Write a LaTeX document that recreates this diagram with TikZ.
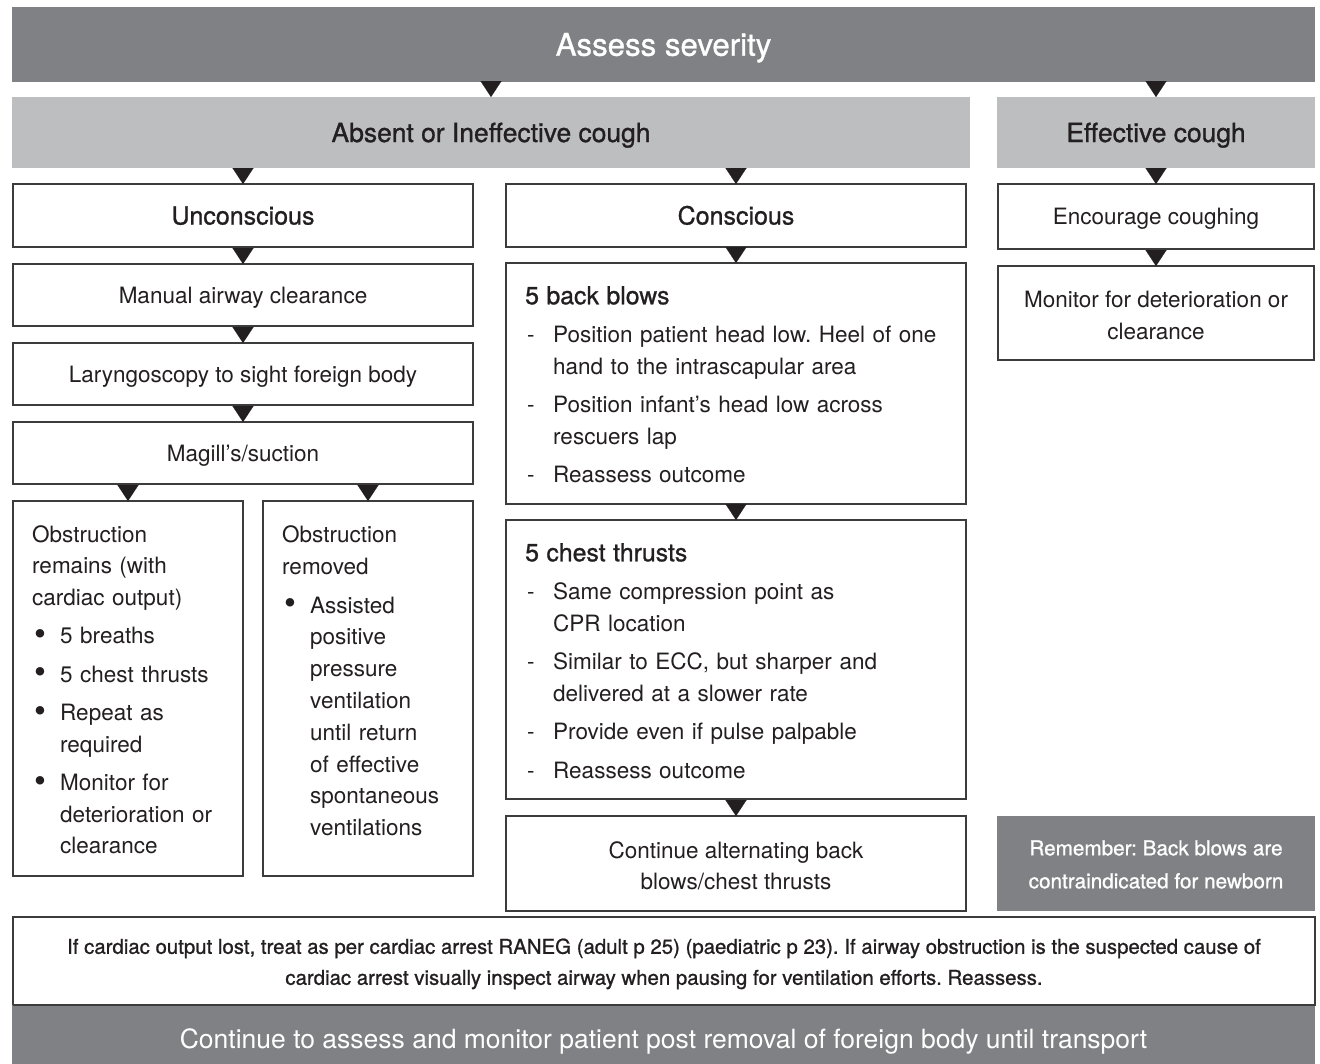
\documentclass[tikz,border=0pt]{standalone}
\usepackage{fontspec}
\setmainfont{TeX Gyre Heros}
\newfontfamily\medfont[FakeBold=1.0]{TeX Gyre Heros}
\usetikzlibrary{arrows.meta}
\definecolor{darkg}{RGB}{128,129,132}
\definecolor{lightg}{RGB}{188,190,192}
\definecolor{edge}{RGB}{60,60,60}
\definecolor{ink}{RGB}{35,31,32}
\frenchspacing
\newcommand\bodyf{\fontsize{22.5}{31.5}\selectfont}
\newcommand\headf{\medfont\fontsize{26.4}{31.5}\selectfont}
\newcommand\boxheadf{\medfont\fontsize{25}{31.5}\selectfont}
\newcommand\titlef{\medfont\fontsize{24.8}{31.5}\selectfont}
\newcommand\bul{\raisebox{-1.5pt}{\fontsize{34}{34}\selectfont\textbullet}}
\newcommand\itm[2]{\par\hangindent=28pt\hangafter=1\noindent\makebox[28pt][l]{\hspace{2pt}#1}#2}
\begin{document}
\begin{tikzpicture}[x=1pt,y=-1pt,
  wh/.style 2 args={minimum width=#1pt, minimum height=#2pt},
  capc/.style={text height=#1pt, text depth=0pt},
  dark/.style={fill=darkg, text=white, draw=none, inner sep=0pt, outer sep=0pt},
  light/.style={fill=lightg, text=ink, draw=none, inner sep=0pt, outer sep=0pt, font=\headf, capc=19},
  box/.style={draw=edge, line width=1.1pt, fill=white, text=ink, inner sep=0pt, outer sep=0pt, align=center, font=\bodyf},
  txt/.style={anchor=north west, inner sep=0pt, text=ink, align=left, font=\bodyf},
  tri/.style={-{Triangle[width=21pt,length=16pt]}, line width=0.01pt, color=ink}
]
\useasboundingbox (0,0) rectangle (1320,1063);
\clip (0,0) rectangle (1320,1063);

% top bars
\node[dark, wh={1303}{75}, font=\medfont\fontsize{31.2}{34}\selectfont, capc=22.4] (top) at (663.5,44.5) {Assess severity};
\node[light, wh={958}{71}] (absent) at (491,132.5) {Absent or Ineffective cough};
\node[light, wh={318}{71}] (effective) at (1156,132.5) {Effective cough};

% left column
\node[box, wh={460}{63}, font=\boxheadf, capc=18] (uncon) at (243,215.5) {Unconscious};
\node[box, wh={460}{62}, capc=16.2] (manual) at (243,295) {Manual airway clearance};
\node[box, wh={460}{62}, capc=16.2] (laryng) at (243,374) {Laryngoscopy to sight foreign body};
\node[box, wh={460}{62}, capc=16.2] (magill) at (243,453) {Magill’s/suction};
\node[box, wh={230}{375}] (remains) at (128,688.5) {};
\node[box, wh={210}{375}] (removed) at (368,688.5) {};

\node[txt, text width=211pt] (remainsT) at ([xshift=19pt,yshift=-19pt]remains.north west)
{\setlength{\parskip}{7pt}\strut Obstruction\\remains (with\\cardiac output)
\itm{\bul}{5 breaths}
\itm{\bul}{5 chest thrusts}
\itm{\bul}{Repeat as\newline required}
\itm{\bul}{Monitor for\newline deterioration or\newline clearance}\par};

\node[txt, text width=191pt, font=\fontsize{22.5}{31.8}\selectfont] (removedT) at ([xshift=19pt,yshift=-19pt]removed.north west)
{\setlength{\parskip}{7pt}\strut Obstruction\\removed
\itm{\bul}{Assisted\newline positive\newline pressure\newline ventilation\newline until return\newline of effective\newline spontaneous\newline ventilations}\par};

% middle column
\node[box, wh={460}{63}, font=\boxheadf, capc=18] (consc) at (736,215.5) {Conscious};
\node[box, wh={460}{241}] (backb) at (736,383.5) {};
\node[box, wh={460}{279}] (chest) at (736,659.5) {};
\node[box, wh={460}{95}] (contalt) at (736,863.5) {\rule{0pt}{21pt}Continue alternating back\\blows/chest thrusts};

\node[txt, text width=441pt] (backbT) at ([xshift=19pt,yshift=-19pt]backb.north west)
{\setlength{\parskip}{7pt}{\titlef\strut 5 back blows\par}
\itm{-}{Position patient head low. Heel of one\newline hand to the intrascapular area}
\itm{-}{Position infant’s head low across\newline rescuers lap}
\itm{-}{Reassess outcome}\par};

\node[txt, text width=441pt] (chestT) at ([xshift=19pt,yshift=-19pt]chest.north west)
{\setlength{\parskip}{7pt}{\titlef\strut 5 chest thrusts\par}
\itm{-}{Same compression point as\newline CPR location}
\itm{-}{Similar to ECC, but sharper and\newline delivered at a slower rate}
\itm{-}{Provide even if pulse palpable}
\itm{-}{Reassess outcome}\par};

% right column
\node[box, wh={316}{65}, capc=16.2] (encour) at (1156,216.5) {Encourage coughing};
\node[box, wh={316}{94}] (monitor) at (1156,313) {\rule{0pt}{21pt}Monitor for deterioration or\\clearance};
\node[dark, wh={318}{95}, align=center, font=\medfont\fontsize{20.7}{33}\selectfont] (remember) at (1156,863.5) {\rule{0pt}{17pt}Remember: Back blows are\\contraindicated for newborn};

% bottom
\node[box, wh={1302}{88}, font=\medfont\fontsize{20.4}{31}\selectfont] (cardiac) at (664,961)
{\rule{0pt}{21pt}If cardiac output lost, treat as per cardiac arrest RANEG (adult p 25) (paediatric p 23). If airway obstruction is the suspected cause of\\cardiac arrest visually inspect airway when pausing for ventilation efforts. Reassess.};
\node[dark, wh={1303}{68}, font=\fontsize{26.5}{30}\selectfont, capc=19] (bottom) at (663.5,1039) {Continue to assess and monitor patient post removal of foreign body until transport};
\draw[edge, line width=1.1pt] (cardiac.south west) -- (cardiac.south east);

% connectors
\draw[tri] (absent.north |- top.south) -- (absent.north);
\draw[tri] (effective.north |- top.south) -- (effective.north);
\draw[tri] (uncon.north |- absent.south) -- (uncon.north);
\draw[tri] (consc.north |- absent.south) -- (consc.north);
\draw[tri] (effective.south) -- (encour.north);
\draw[tri] (uncon.south) -- (manual.north);
\draw[tri] (manual.south) -- (laryng.north);
\draw[tri] (laryng.south) -- (magill.north);
\draw[tri] (remains.north |- magill.south) -- (remains.north);
\draw[tri] (removed.north |- magill.south) -- (removed.north);
\draw[tri] (consc.south) -- (backb.north);
\draw[tri] (backb.south) -- (chest.north);
\draw[tri] (chest.south) -- (contalt.north);
\draw[tri] (encour.south) -- (monitor.north);
\end{tikzpicture}
\end{document}
